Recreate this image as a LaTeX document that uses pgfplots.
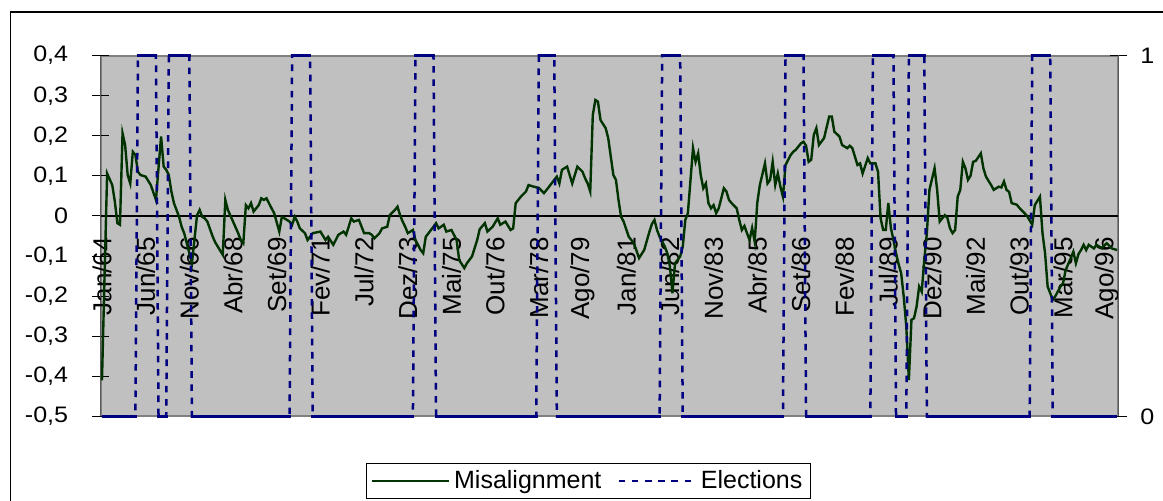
\documentclass[border=0pt]{standalone}
\usepackage{fontspec}
\setmainfont{Liberation Sans}
\usepackage{pgfplots}
\pgfplotsset{compat=1.18}
\definecolor{plotbg}{HTML}{C0C0C0}
\definecolor{misgreen}{HTML}{003300}
\definecolor{elecblue}{HTML}{000080}
\begin{document}
\begin{tikzpicture}[x=1pt,y=1pt]
\useasboundingbox (0,0) rectangle (581.5,250.5);
\draw[line width=0.6pt] (5.25,-2) -- (5.25,244.5) -- (584,244.5);
\begin{axis}[
  at={(50.35pt,42.25pt)}, anchor=south west, scale only axis,
  width=508.8pt, height=180.5pt,
  xmin=-0.5, xmax=395.5, ymin=-0.5, ymax=0.4,
  axis y line*=left, axis x line*=middle,
  hide obscured y ticks=false, hide obscured x ticks=false,
  axis background/.style={fill=plotbg, draw=gray, line width=1pt},
  y axis line style={black!65, line width=0.8pt},
  x axis line style={black, line width=0.6pt},
  ytick={-0.5,-0.4,...,0.41},
  xtick={0,17,...,391},
  xticklabels={Jan/64,Jun/65,Nov/66,Abr/68,Set/69,Fev/71,Jul/72,Dez/73,Mai/75,Out/76,Mar/78,Ago/79,Jan/81,Jun/82,Nov/83,Abr/85,Set/86,Fev/88,Jul/89,Dez/90,Mai/92,Out/93,Mar/95,Ago/96},
  tick align=center, major tick length=8.5pt,
  xtick style={draw=none},
  ytick style={black, line width=0.5pt},
  /pgf/number format/.cd, fixed, precision=1, use comma, assume math mode=true, /pgfplots/.cd,
  yticklabel style={font=\fontsize{11.2}{13}\selectfont, anchor=east, inner sep=0pt, xshift=-11.8pt, xscale=1.12},
  xticklabel style={font=\fontsize{13}{15}\selectfont, yshift=-6.25pt, rotate=90, anchor=east, inner sep=0pt},
  clip=false,
]
\addplot[misgreen, line width=1.2pt] table {
0 -0.41
1 -0.15
2 0.106
4 0.077
5 0.036
6 -0.018
7 -0.022
8 0.206
9 0.177
10 0.102
11 0.081
12 0.160
13 0.152
14 0.110
15 0.102
17 0.098
19 0.077
21 0.040
22 0.12
23 0.198
24 0.123
25 0.115
26 0.102
27 0.061
28 0.032
30 -0.002
31 -0.027
32 -0.043
35 -0.118
37 0.002
38 0.015
39 -0.002
40 -0.006
41 -0.014
43 -0.05
44 -0.065
47 -0.097
48 0.04
49 0.015
51 -0.014
53 -0.043
54 -0.06
55 -0.068
56 0.027
57 0.019
58 0.032
59 0.011
61 0.027
62 0.044
63 0.04
64 0.044
66 0.019
67 0.007
69 -0.039
70 -0.002
71 -0.006
73 -0.014
74 -0.022
75 -0.002
76 -0.014
77 -0.031
79 -0.043
80 -0.06
82 -0.043
85 -0.039
87 -0.06
88 -0.052
90 -0.072
92 -0.047
94 -0.039
95 -0.047
96 -0.027
97 -0.006
98 -0.014
100 -0.01
102 -0.043
104 -0.043
105 -0.047
106 -0.056
108 -0.043
109 -0.031
111 -0.027
112 0.002
114 0.015
115 0.023
116 0.002
117 -0.014
118 -0.027
119 -0.043
121 -0.035
122 -0.06
124 -0.085
125 -0.093
126 -0.052
128 -0.035
129 -0.027
130 -0.018
131 -0.031
133 -0.022
134 -0.039
136 -0.035
138 -0.06
139 -0.11
141 -0.13
142 -0.118
144 -0.101
146 -0.06
147 -0.033
149 -0.018
150 -0.039
152 -0.027
154 -0.006
155 -0.022
157 -0.014
159 -0.035
160 -0.031
161 0.032
163 0.048
165 0.061
166 0.077
168 0.073
170 0.07
172 0.057
174 0.073
176 0.09
177 0.098
178 0.081
179 0.115
181 0.123
183 0.081
185 0.123
187 0.11
188 0.094
189 0.081
190 0.061
191 0.252
192 0.289
193 0.285
194 0.239
196 0.219
197 0.194
198 0.148
199 0.102
200 0.09
201 0.04
202 -0.002
203 -0.014
205 -0.052
207 -0.068
209 -0.105
211 -0.085
213 -0.04
214 -0.02
215 -0.01
216 -0.035
217 -0.052
219 -0.076
220 -0.093
221 -0.126
222 -0.193
223 -0.118
225 -0.101
226 -0.077
227 -0.01
228 0.007
230 0.169
231 0.135
232 0.156
233 0.102
234 0.069
235 0.081
236 0.032
237 0.019
238 0.027
239 0.007
240 0.019
242 0.069
243 0.061
244 0.04
245 0.032
247 0.019
248 -0.01
249 -0.035
250 -0.025
251 -0.043
252 -0.06
253 -0.03
254 -0.064
255 0.032
256 0.077
258 0.131
259 0.081
260 0.09
261 0.135
262 0.077
263 0.106
264 0.073
265 0.048
266 0.127
268 0.152
269 0.160
270 0.165
272 0.181
273 0.185
274 0.175
275 0.135
276 0.14
277 0.202
278 0.219
279 0.177
281 0.194
283 0.248
284 0.248
285 0.21
287 0.198
288 0.177
290 0.169
291 0.175
292 0.169
294 0.127
295 0.131
296 0.106
298 0.144
299 0.131
301 0.131
302 0.11
303 -0.006
304 -0.035
305 -0.035
306 0.032
307 -0.03
308 -0.06
309 -0.093
310 -0.12
311 -0.143
312 -0.201
313 -0.276
314 -0.409
315 -0.259
316 -0.255
317 -0.226
318 -0.176
319 -0.189
320 -0.11
321 -0.043
322 0.065
324 0.119
325 0.065
326 -0.014
328 0.002
329 -0.005
330 -0.031
331 -0.043
332 -0.035
333 0.048
334 0.065
335 0.135
336 0.119
337 0.09
338 0.10
339 0.135
340 0.137
342 0.156
343 0.119
344 0.098
346 0.077
347 0.065
349 0.073
350 0.071
351 0.086
352 0.065
353 0.06
354 0.032
356 0.028
357 0.02
359 0.007
360 0.0
362 -0.022
363 0.027
365 0.048
366 -0.043
367 -0.093
368 -0.176
370 -0.209
371 -0.2
373 -0.176
374 -0.168
375 -0.135
377 -0.105
378 -0.089
379 -0.118
380 -0.095
381 -0.085
382 -0.072
383 -0.085
384 -0.072
386 -0.081
387 -0.072
389 -0.08
391 -0.068
393 -0.081
395 -0.085
};
\end{axis}
\begin{axis}[
  at={(50.35pt,42.25pt)}, anchor=south west, scale only axis,
  width=508.8pt, height=180.5pt,
  xmin=-0.5, xmax=395.5, ymin=0, ymax=1,
  axis x line=none, axis y line*=right,
  y axis line style={black!65, line width=0.8pt},
  ytick={0,1},
  tick align=center, major tick length=8.5pt,
  ytick style={black, line width=0.5pt},
  /pgf/number format/assume math mode=true,
  yticklabel style={font=\fontsize{11.2}{13}\selectfont, anchor=west, inner sep=0pt, xshift=6.5pt, xscale=1.12},
  clip=false,
  legend columns=2,
  legend cell align=left,
  legend image code/.code={\draw[#1] (0pt,0pt) -- (38.5pt,0pt);},
  legend style={at={(0.4794,-0.1787)}, anchor=center, draw=black, line width=0.5pt, fill=white,
    font=\fontsize{12.5}{14}\selectfont, inner xsep=2pt, inner ysep=1.5pt,
    /tikz/every even column/.append style={column sep=6pt}},
]
\addlegendimage{misgreen, line width=1.2pt}
\addlegendentry{Misalignment}
\addplot[elecblue, line width=1.25pt, dash pattern=on 3.3pt off 3.3pt] table {
0 0
13 0
14 1
21 1
22 0
25 0
26 1
34 1
35 0
73 0
74 1
81 1
82 0
121 0
122 1
129 1
130 0
169 0
170 1
176 1
177 0
217 0
218 1
225 1
226 0
265 0
266 1
273 1
274 0
299 0
300 1
308 1
309 0
313 0
314 1
320 1
321 0
361 0
362 1
369 1
370 0
395 0
};
\addlegendentry{Elections}
\addplot[elecblue, line width=1.25pt, jump mark mid, forget plot] table {
0 0
13 0
14 1
21 1
22 0
25 0
26 1
34 1
35 0
73 0
74 1
81 1
82 0
121 0
122 1
129 1
130 0
169 0
170 1
176 1
177 0
217 0
218 1
225 1
226 0
265 0
266 1
273 1
274 0
299 0
300 1
308 1
309 0
313 0
314 1
320 1
321 0
361 0
362 1
369 1
370 0
395 0
};
\end{axis}
\end{tikzpicture}
\end{document}
